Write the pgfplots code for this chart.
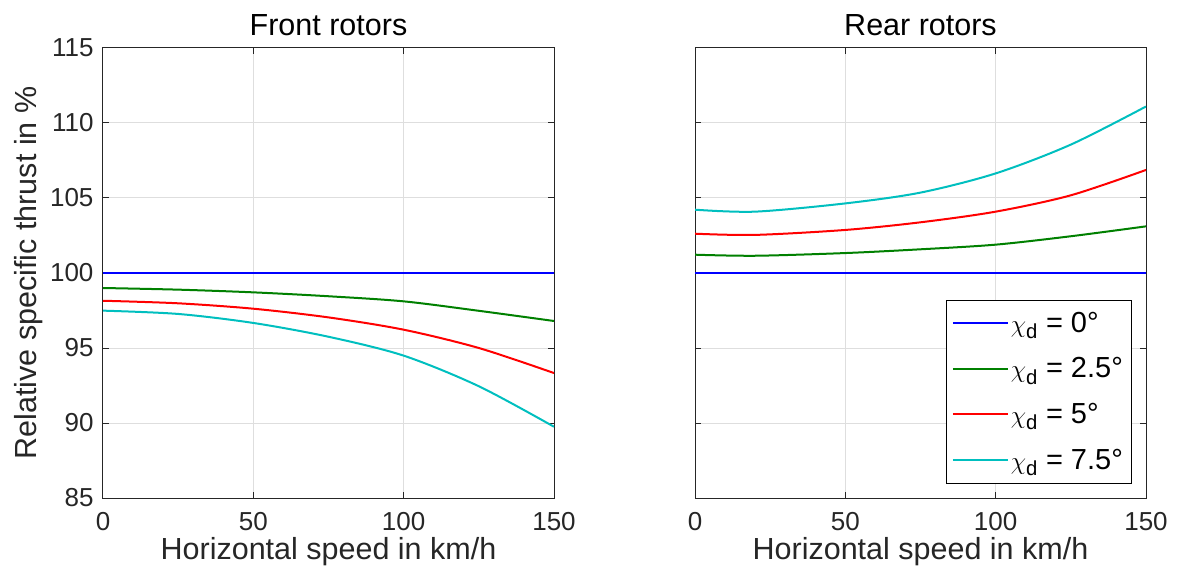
\documentclass[border=0pt]{standalone}
\usepackage{pgfplots}
\pgfplotsset{compat=1.18}
\usepackage{fontspec}
\setmainfont{Liberation Sans}
\definecolor{mblue}{rgb}{0,0,1}
\definecolor{mgreen}{rgb}{0,0.5,0}
\definecolor{mred}{rgb}{1,0,0}
\definecolor{mcyan}{rgb}{0,0.75,0.75}
\definecolor{txt}{rgb}{0.15,0.15,0.15}
\pgfplotsset{
  myaxis/.style={
    width=451pt, height=450pt, scale only axis,
    xmin=0, xmax=150, ymin=85, ymax=115,
    xtick={0,50,100,150}, ytick={85,90,95,100,105,110,115},
    grid=major, major grid style={color=black!13, line width=1pt},
    axis line style={color=txt, line width=1pt},
    tick style={color=txt, line width=1pt},
    tick align=inside, major tick length=6pt,
    ticklabel style={font=\fontsize{26}{28}\selectfont, color=txt},
    xticklabel style={yshift=-11pt},
    yticklabel style={xshift=-6pt},
    /pgf/number format/assume math mode=true,
    label style={font=\fontsize{30.5}{32}\selectfont, color=txt},
    title style={font=\fontsize{30.5}{32}\selectfont, color=black, yshift=3pt},
    xlabel={Horizontal speed in km/h},
    every axis plot/.append style={line width=2pt, smooth, no markers},
  }
}
\begin{document}
\begin{tikzpicture}
\useasboundingbox (-103pt,-81pt) rectangle (1076pt,498pt);
\begin{axis}[myaxis, at={(0pt,0pt)}, anchor=south west,
  title={Front rotors}, ylabel={Relative specific thrust in \%}]
\addplot[color=mblue] coordinates {(0,100) (150,100)};
\addplot[color=mgreen] coordinates {(0,99.0) (25,98.89) (50,98.71) (75,98.45) (100,98.11) (125,97.48) (150,96.8)};
\addplot[color=mred] coordinates {(0,98.15) (25,97.98) (50,97.62) (75,97.04) (100,96.22) (125,95.0) (150,93.33)};
\addplot[color=mcyan] coordinates {(0,97.49) (25,97.27) (50,96.67) (75,95.75) (100,94.49) (125,92.45) (150,89.75)};
\end{axis}
\begin{axis}[myaxis, at={(592pt,0pt)}, anchor=south west,
  title={Rear rotors}, yticklabels={},
  legend style={at={(0.967,0.033)}, anchor=south east, draw=black,
    font=\fontsize{29}{31}\selectfont, fill=white, inner xsep=6pt, inner ysep=10pt,
    row sep=20pt, cells={anchor=west}},
  legend image code/.code={\draw[mark repeat=2,mark phase=2,#1] plot coordinates {(0pt,0pt) (27pt,0pt) (55pt,0pt)};}]
\addplot[color=mblue] coordinates {(0,100) (150,100)};
\addlegendentry{$\chi$\textsubscript{d} = 0°}
\addplot[color=mgreen] coordinates {(0,101.22) (20,101.15) (50,101.33) (75,101.58) (100,101.89) (125,102.45) (150,103.11)};
\addlegendentry{$\chi$\textsubscript{d} = 2.5°}
\addplot[color=mred] coordinates {(0,102.62) (20,102.54) (50,102.87) (75,103.38) (100,104.09) (125,105.18) (150,106.87)};
\addlegendentry{$\chi$\textsubscript{d} = 5°}
\addplot[color=mcyan] coordinates {(0,104.22) (20,104.09) (50,104.64) (75,105.36) (100,106.64) (125,108.56) (150,111.1)};
\addlegendentry{$\chi$\textsubscript{d} = 7.5°}
\end{axis}
\end{tikzpicture}
\end{document}
